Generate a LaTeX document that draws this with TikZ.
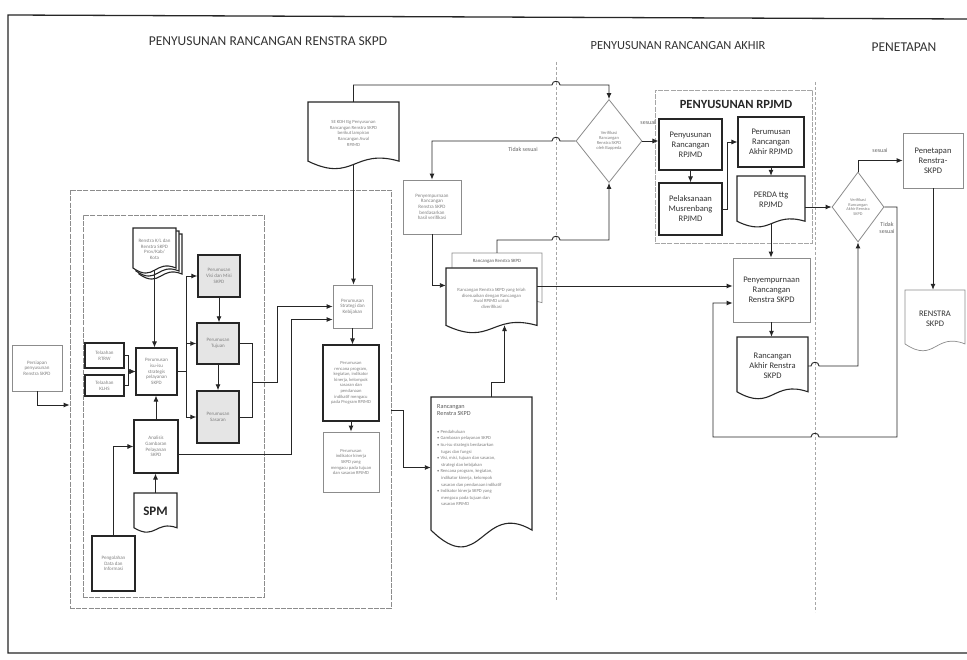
\documentclass[tikz,border=0pt]{standalone}
\usepackage{fontspec}
\setmainfont{Carlito}
\usetikzlibrary{shapes.geometric,calc,arrows.meta}

\newcommand\docpath[5][]{%
 \pgfmathsetmacro\dA{0.13*(#5-#3)}%
 \pgfmathsetmacro\dM{(#2+#4)/2}%
 \draw[#1] (#2,#3) -- (#4,#3) -- (#4,{#5-\dA}) .. controls (\dM,{#5-2.5*\dA}) and (\dM,{#5+1.5*\dA}) .. (#2,{#5-\dA}) -- cycle;}
\newcommand\docb[8][]{%
 \docpath[#1]{#3}{#4}{#5}{#6}%
 \pgfmathsetmacro\dB{#6-0.6*0.13*(#6-#4)}%
 \node[inner sep=0pt, align=center, minimum width={#5-#3}, minimum height={\dB-#4}, #7] (#2) at ({(#3+#5)/2},{(#4+\dB)/2}) {#8};}
\newcommand\rbox[6][]{%
 \node[#1, minimum width={#5-#3}, minimum height={#6-#4}] (#2) at ({(#3+#5)/2},{(#4+#6)/2})}

\tikzset{
 arr/.style={-{Latex[length=6pt,width=5pt]}, line width=0.9pt, draw=black!85},
 ln/.style={line width=0.9pt, draw=black!85},
 lane/.style={draw=black!35, dash pattern=on 3pt off 2pt, line width=0.6pt},
 grp/.style={draw=black!45, line width=0.7pt, dash pattern=on 5pt off 1.2pt},
 tiny/.style={font=\fontsize{5}{5.6}\selectfont, text=black!50},
 box/.style={draw=black!85, line width=1.1pt, fill=white, inner sep=1pt, align=center, tiny},
 shaded/.style={box, fill=black!10, line width=1.4pt},
 lbox/.style={box, draw=black!45, line width=0.7pt},
 docd/.style={draw=black!85, line width=1.1pt, fill=white},
 docl/.style={draw=black!45, line width=0.7pt, fill=white},
 big/.style={font=\fontsize{8.5}{10}\selectfont, text=black!80},
 ttl/.style={font=\fontsize{13.5}{14}\selectfont, text=black!80},
 dia/.style={diamond, draw=black!45, line width=0.8pt, fill=white, inner sep=0pt, align=center, font=\fontsize{4.5}{5}\selectfont, text=black!50},
 lbl/.style={font=\fontsize{6}{6.5}\selectfont, text=black!60, align=center},
}

\begin{document}
\begin{tikzpicture}[x=1pt,y=-1pt]
\useasboundingbox (0,0) rectangle (967,660);
\fill[white] (0,0) rectangle (967,660);
% frame
\draw[line width=1.3pt, black!85] (967,19) -- (8,15) -- (8,653) -- (967,653);
% lanes
\draw[lane] (556,62) -- (556,600);
\draw[lane] (815,82) -- (815,612);
% titles
\node[ttl] (title1) at (268,41) {PENYUSUNAN RANCANGAN RENSTRA SKPD};
\node[ttl, font=\fontsize{12.4}{13}\selectfont] (title2) at (678,46) {PENYUSUNAN RANCANGAN AKHIR};
\node[ttl] (title3) at (904,47) {PENETAPAN};

% groups
\rbox[grp]{outer}{70}{190}{391}{608} {};
\rbox[grp]{inner}{83}{215}{264}{597} {};
\rbox[grp, draw=black!35]{grpr}{655}{90}{812}{243} {};
\node[font=\bfseries\fontsize{12.5}{13}\selectfont, text=black!85] (grprt) at (736,104) {PENYUSUNAN RPJMD};

% left part
\rbox[lbox]{persiapan}{12}{345}{62}{391} {Persiapan\\penyusunan\\Renstra SKPD};
\docpath[docd]{139}{234}{182}{280}
\docpath[docd]{136}{231}{179}{277}
\docb[docd]{rk}{133}{228}{176}{274}{tiny}{Renstra K/L dan\\Renstra SKPD\\Prov/Kab/\\Kota}
\rbox[box]{t1}{85}{343}{124}{368} {Telaahan\\RTRW};
\rbox[box]{t2}{85}{375}{124}{396} {Telaahan\\KLHS};
\rbox[box]{isu}{136}{348}{177}{395} {Perumusan\\isu-isu\\strategis\\pelayanan\\SKPD};
\rbox[shaded]{b1}{198}{255}{240}{297} {Perumusan\\Visi dan Misi\\SKPD};
\rbox[shaded]{b2}{197}{323}{239}{364} {Perumusan\\Tujuan};
\rbox[shaded]{b3}{197}{391}{239}{443} {Perumusan\\Sasaran};
\rbox[box]{analisis}{134}{420}{178}{473} {Analisis\\Gambaran\\Pelayanan\\SKPD};
\docb[docd]{spm}{134}{493}{177}{533}{font=\bfseries\fontsize{13}{13}\selectfont, text=black!85}{SPM}
\rbox[box]{olah}{92}{536}{135}{591} {Pengolahan\\Data dan\\Informasi};

% middle column
\docb[docd]{sekdh}{308}{102}{399}{170}{tiny, font=\fontsize{4.7}{5.6}\selectfont}{SE KDH ttg Penyusunan\\Rancangan Renstra SKPD\\berikut lampiran\\Rancangan Awal\\RPJMD}
\rbox[lbox]{mid1}{333}{285}{372}{328} {Perumusan\\Strategi dan\\Kebijakan};
\rbox[box, font=\fontsize{4.6}{5.6}\selectfont]{mid2}{323}{345}{379}{421} {Perumusan\\rencana program,\\kegiatan, indikator\\kinerja, kelompok\\sasaran dan\\pendanaan\\indikatif mengacu\\pada Program RPJMD};
\rbox[lbox, font=\fontsize{4.6}{5.6}\selectfont]{mid3}{323}{432}{379}{492} {Perumusan\\indikator kinerja\\SKPD yang\\mengacu pada tujuan\\dan sasaran RPJMD};
\rbox[lbox]{pv}{403}{180}{461}{234} {Penyempurnaan\\Rancangan\\Renstra SKPD\\berdasarkan\\hasil verifikasi};
\docb[docl]{back}{452}{253}{542}{310}{}{}
\node[tiny, text=black!65, font=\fontsize{4.8}{5}\selectfont] (backhdr) at (497,261) {Rancangan Renstra SKPD};
\docb[docd]{front}{446}{268}{537}{334}{tiny, font=\fontsize{4.7}{5.6}\selectfont}{Rancangan Renstra SKPD yang telah\\disesuaikan dengan Rancangan\\Awal RPJMD untuk\\diverifikasi}
\docb[docd]{rrs}{431}{397}{532}{550}{}{}
\node[anchor=north west, align=left, inner sep=0pt, font=\fontsize{6.2}{7.4}\selectfont, text=black!65] (rrshdr) at (437,404) {Rancangan\\Renstra SKPD};
\node[anchor=north west, align=left, inner sep=0pt, font=\fontsize{4.6}{6.6}\selectfont, text=black!50] (rrsbul) at (437,430) {\textbullet\ Pendahuluan\\
\textbullet\ Gambaran pelayanan SKPD\\
\textbullet\ Isu-isu strategis berdasarkan\\\hspace*{4pt}tugas dan fungsi\\
\textbullet\ Visi, misi, tujuan dan sasaran,\\\hspace*{4pt}strategi dan kebijakan\\
\textbullet\ Rencana program, kegiatan,\\\hspace*{4pt}indikator kinerja, kelompok\\\hspace*{4pt}sasaran dan pendanaan indikatif\\
\textbullet\ Indikator kinerja SKPD yang\\\hspace*{4pt}mengacu pada tujuan dan\\\hspace*{4pt}sasaran RPJMD};
\node[dia, minimum width=66pt, minimum height=83pt] (d1) at (609,141) {Verifikasi\\Rancangan\\Renstra SKPD\\oleh Bappeda};

% RPJMD
\rbox[box, big]{r1}{659}{119}{722}{170} {Penyusunan\\Rancangan\\RPJMD};
\rbox[box, big]{r2}{659}{183}{722}{235} {Pelaksanaan\\Musrenbang\\RPJMD};
\rbox[box, big]{r3}{738}{117}{804}{167} {Perumusan\\Rancangan\\Akhir RPJMD};
\docb[docd]{r4}{737}{176}{805}{228}{big}{PERDA ttg\\RPJMD}
\rbox[lbox, big]{pny2}{733}{258}{810}{322} {Penyempurnaan\\Rancangan\\Renstra SKPD};
\docb[docd]{rak}{737}{337}{808}{400}{big}{Rancangan\\Akhir Renstra\\SKPD}
\node[dia, minimum width=52pt, minimum height=70pt, font=\fontsize{4.3}{4.8}\selectfont] (d2) at (858,207) {Verifikasi\\Rancangan\\Akhir Renstra\\SKPD};
\rbox[lbox, big]{pen}{903}{133}{963}{188} {Penetapan\\Renstra-\\SKPD};
\docb[docl]{renstra}{905}{290}{965}{352}{big}{RENSTRA\\SKPD}

% labels
\node[lbl] (ltidak1) at (523,149) {Tidak sesuai};
\node[lbl] (lsesuai1) at (648,122) {sesuai};
\node[lbl] (lsesuai2) at (880,150) {sesuai};
\node[lbl] (ltidak2) at (887,228) {Tidak\\sesuai};

% connectors: left
\draw[arr] (persiapan.south) |- (outer.west |- 0,405);
\draw[arr] (rk.south) -- (rk.south |- isu.north);
\draw[arr] (t1.east) -- ++(4,0) |- (isu.west);
\draw[arr] (t2.east) -- ++(4,0) |- (isu.west);
\draw[arr] (analisis.north) -- (analisis.north |- isu.south);
\draw[arr] (spm.north) -- (spm.north |- analisis.south);
\draw[arr] (olah.north) |- (analisis.west);
\coordinate (bus) at ($(isu.east)+(9,0)$);
\draw[ln] (isu.east) -- (bus);
\draw[arr] (bus) |- (b1.west);
\draw[arr] (bus) |- (b2.west);
\draw[arr] (bus) |- (b3.west);
\draw[arr] (b1.south) -- (b1.south |- b2.north);
\draw[arr] (b2.south) -- (b3.north);
\coordinate (j1) at (252,382);
\draw[ln] (b2.east) -| (j1);
\draw[ln] (b3.east) -| (j1);
\draw[arr] (j1) -- ++(25,0) |- (mid1.west);
\draw[arr] ([yshift=-8pt]analisis.east) -- ++(113,0) |- ([yshift=-13pt]mid1.west);
% middle
\draw[arr] (sekdh.south) -- (sekdh.south |- mid1.north);
\draw[arr] (mid1.south) -- (mid1.south |- mid2.north);
\draw[arr] (mid2.south) -- (mid2.south |- mid3.north);
\draw[arr] (outer.east |- 0,410) -- (403,410) |- (rrs.west);
\draw[arr] ([xshift=10pt]rrs.north) -- ++(0,-14) -| ([xshift=13pt,yshift=4pt]front.south);
\draw[arr] (pv.south) |- ([yshift=13pt]front.west);
\draw[arr] (back.north) -- (back.north |- 0,240) -- (552,240) .. controls (552,235) and (560,235) .. (560,240) -| (d1.south);
\draw[arr] (sekdh.north) -- (sekdh.north |- 0,85) -- (552,85) .. controls (552,80) and (560,80) .. (560,85) -| (d1.north);
\draw[arr] (d1.west) -- (560,141) .. controls (560,136) and (552,136) .. (552,141) -| (pv.north);
\draw[arr] (d1.east) -- (d1.east -| r1.west);
% RPJMD
\draw[arr] (r1.south) -- (r2.north);
\draw[arr] (r2.east) -- ++(5,0) |- (r3.west);
\draw[arr] (r3.south) -- (r4.north);
\draw[arr] (r4.south) -- (r4.south |- pny2.north);
\draw[arr] (d2.west -| r4.east) -- (d2.west);
\draw[arr] (front.east |- 0,286) -- (pny2.west |- 0,286);
\draw[arr] (pny2.south) -- (pny2.south |- rak.north);
\draw[arr] (rak.east) -- (811,366) .. controls (811,361) and (819,361) .. (819,366) -| (d2.south);
\draw[arr] (d2.north) |- (pen.west);
\draw[arr] (pen.south) -- (pen.south |- renstra.north);
\draw[arr] (d2.east) -- (897,207) -- (897,437) -- (819,437) .. controls (819,432) and (811,432) .. (811,437) -- (713,437) -- (713,303) -- (pny2.west |- 0,303);
\end{tikzpicture}
\end{document}
